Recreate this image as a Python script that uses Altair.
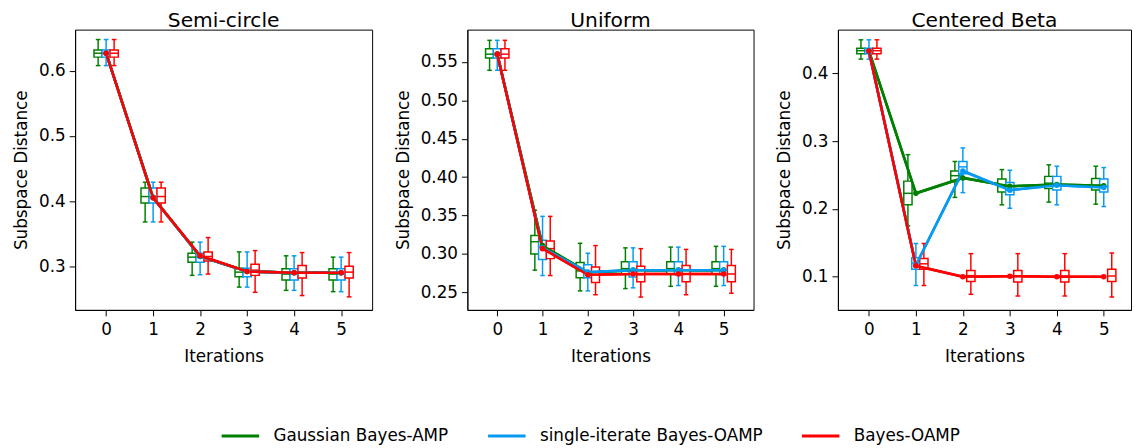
import altair as alt
import pandas as pd

ITERATIONS = [0, 1, 2, 3, 4, 5]
SERIES = ["Gaussian Bayes-AMP", "single-iterate Bayes-OAMP", "Bayes-OAMP"]
COLORS = ["#008000", "#069af3", "#ff0000"]
PANELS = ["Semi-circle", "Uniform", "Centered Beta"]

# each row: (whisker low, q1, median, q3, whisker high, mean) per iteration
semi_gauss = [(0.608, 0.621, 0.627, 0.632, 0.648, 0.627), (0.368, 0.397, 0.407, 0.420, 0.429, 0.406),
              (0.286, 0.306, 0.314, 0.320, 0.337, 0.315), (0.268, 0.284, 0.291, 0.297, 0.322, 0.292),
              (0.263, 0.279, 0.288, 0.296, 0.316, 0.290), (0.261, 0.279, 0.288, 0.296, 0.314, 0.290)]
semi_single = [(0.608, 0.621, 0.627, 0.632, 0.648, 0.627), (0.368, 0.397, 0.407, 0.420, 0.429, 0.405),
               (0.287, 0.306, 0.314, 0.320, 0.337, 0.315), (0.268, 0.284, 0.291, 0.297, 0.322, 0.292),
               (0.263, 0.279, 0.288, 0.296, 0.316, 0.290), (0.261, 0.279, 0.288, 0.296, 0.314, 0.290)]
semi_oamp = [(0.608, 0.621, 0.627, 0.632, 0.648, 0.627), (0.368, 0.397, 0.407, 0.420, 0.429, 0.405),
             (0.288, 0.308, 0.315, 0.322, 0.344, 0.316), (0.260, 0.286, 0.294, 0.303, 0.324, 0.292),
             (0.255, 0.282, 0.291, 0.301, 0.321, 0.290), (0.253, 0.282, 0.291, 0.300, 0.321, 0.290)]

unif_gauss = [(0.539, 0.555, 0.560, 0.567, 0.578, 0.560), (0.279, 0.300, 0.316, 0.324, 0.357, 0.311),
              (0.252, 0.269, 0.278, 0.289, 0.314, 0.276), (0.255, 0.274, 0.281, 0.290, 0.308, 0.279),
              (0.258, 0.274, 0.281, 0.290, 0.309, 0.279), (0.258, 0.274, 0.281, 0.290, 0.310, 0.279)]
unif_single = [(0.539, 0.555, 0.560, 0.567, 0.578, 0.560), (0.272, 0.293, 0.309, 0.318, 0.349, 0.308),
               (0.252, 0.269, 0.277, 0.286, 0.301, 0.2765), (0.256, 0.270, 0.279, 0.290, 0.308, 0.279),
               (0.259, 0.273, 0.279, 0.290, 0.309, 0.279), (0.259, 0.273, 0.279, 0.290, 0.310, 0.279)]
unif_oamp = [(0.539, 0.555, 0.560, 0.567, 0.578, 0.560), (0.272, 0.294, 0.307, 0.317, 0.349, 0.307),
             (0.247, 0.263, 0.273, 0.283, 0.311, 0.273), (0.244, 0.264, 0.273, 0.284, 0.307, 0.274),
             (0.247, 0.264, 0.274, 0.285, 0.306, 0.274), (0.249, 0.264, 0.274, 0.285, 0.306, 0.274)]

beta_gauss = [(0.421, 0.429, 0.4335, 0.437, 0.4495, 0.433), (0.175, 0.206, 0.223, 0.241, 0.280, 0.223),
              (0.217, 0.242, 0.249, 0.256, 0.270, 0.2457), (0.206, 0.225, 0.233, 0.244, 0.258, 0.2335),
              (0.210, 0.230, 0.238, 0.248, 0.265, 0.236), (0.207, 0.228, 0.235, 0.245, 0.263, 0.234)]
beta_single = [(0.421, 0.429, 0.4335, 0.437, 0.4495, 0.433), (0.087, 0.111, 0.120, 0.128, 0.149, 0.117),
               (0.224, 0.252, 0.262, 0.270, 0.290, 0.256), (0.201, 0.221, 0.228, 0.239, 0.257, 0.2277),
               (0.206, 0.228, 0.235, 0.248, 0.263, 0.235), (0.2035, 0.225, 0.233, 0.244, 0.261, 0.2316)]
beta_oamp = [(0.421, 0.429, 0.4335, 0.437, 0.4495, 0.433), (0.087, 0.111, 0.119, 0.127, 0.149, 0.116),
             (0.074, 0.093, 0.1016, 0.109, 0.134, 0.100), (0.0715, 0.092, 0.101, 0.109, 0.134, 0.1006),
             (0.0715, 0.092, 0.101, 0.109, 0.134, 0.100), (0.070, 0.093, 0.101, 0.111, 0.135, 0.100)]

PANEL_DATA = {
    "Semi-circle": [semi_gauss, semi_single, semi_oamp],
    "Uniform": [unif_gauss, unif_single, unif_oamp],
    "Centered Beta": [beta_gauss, beta_single, beta_oamp],
}

rows = []
for pname in PANELS:
    for k, (sname, stats) in enumerate(zip(SERIES, PANEL_DATA[pname])):
        for it, (lo, q1, med, q3, hi, mean) in zip(ITERATIONS, stats):
            rows.append(dict(panel=pname, series=sname, k=k, it=it, lo=lo, q1=q1,
                             med=med, q3=q3, hi=hi, mean=mean))
df = pd.DataFrame(rows)

FONT = "DejaVu Sans"
sscale = alt.Scale(domain=SERIES, range=COLORS)
LEGEND = alt.Legend(title=None, orient="none", direction="horizontal", legendX=147, legendY=391,
                    symbolType="stroke", symbolStrokeWidth=3, symbolSize=1444,
                    labelFontSize=17, labelFont=FONT, labelColor="black", labelOffset=13,
                    columnPadding=33, labelLimit=400)


def make_panel(name, ydom, yticks, yfmt, xdom, width):
    base = alt.Chart(df).transform_filter(alt.datum.panel == name).transform_calculate(
        xb="datum.it + (datum.k - 1) * 0.17",
        xl="datum.it + (datum.k - 1) * 0.17 - 0.088",
        xr="datum.it + (datum.k - 1) * 0.17 + 0.088",
        cl="datum.it + (datum.k - 1) * 0.17 - 0.05",
        cr="datum.it + (datum.k - 1) * 0.17 + 0.05",
    )
    xs = alt.Scale(domain=xdom, nice=False, zero=False)
    ys = alt.Scale(domain=ydom, nice=False, zero=False)
    xax = alt.Axis(values=ITERATIONS, format="d", title="Iterations", labelPadding=6, titlePadding=11)
    yax = alt.Axis(values=yticks, format=yfmt, title="Subspace Distance")
    col_nl = alt.Color("series:N", scale=sscale, legend=None)

    line_first = base.mark_line(strokeWidth=2.6).encode(
        x=alt.X("it:Q", scale=xs, axis=xax), y=alt.Y("mean:Q", scale=ys, axis=yax),
        color=alt.Color("series:N", scale=sscale, legend=LEGEND),
        order="it:Q")
    whisk = base.mark_rule(strokeWidth=1.5).encode(
        x=alt.X("xb:Q", scale=xs, axis=xax), y=alt.Y("lo:Q", scale=ys, axis=yax), y2="hi:Q",
        color=col_nl)
    cap_hi = base.mark_rule(strokeWidth=1.5).encode(
        x=alt.X("cl:Q", scale=xs, axis=xax), x2="cr:Q", y=alt.Y("hi:Q", scale=ys, axis=yax),
        color=col_nl)
    cap_lo = base.mark_rule(strokeWidth=1.5).encode(
        x=alt.X("cl:Q", scale=xs, axis=xax), x2="cr:Q", y=alt.Y("lo:Q", scale=ys, axis=yax),
        color=col_nl)
    box = base.mark_rect(filled=False, fill="white", strokeWidth=1.5).encode(
        x=alt.X("xl:Q", scale=xs, axis=xax), x2="xr:Q", y=alt.Y("q1:Q", scale=ys, axis=yax), y2="q3:Q",
        color=col_nl)
    med = base.mark_rule(strokeWidth=1.5).encode(
        x=alt.X("xl:Q", scale=xs, axis=xax), x2="xr:Q", y=alt.Y("med:Q", scale=ys, axis=yax),
        color=col_nl)
    line = base.mark_line(strokeWidth=2.6).encode(
        x=alt.X("it:Q", scale=xs, axis=xax), y=alt.Y("mean:Q", scale=ys, axis=yax),
        color=col_nl, order="it:Q")
    pts = base.mark_circle(size=32, opacity=1).encode(
        x=alt.X("it:Q", scale=xs, axis=xax), y=alt.Y("mean:Q", scale=ys, axis=yax),
        color=col_nl)
    return alt.layer(line_first, whisk, cap_hi, cap_lo, box, med, line, pts).properties(
        width=width, height=284,
        title=alt.TitleParams(name, fontSize=20.5, font=FONT, fontWeight="normal",
                              color="black", offset=-2))


p1 = make_panel("Semi-circle", [0.233, 0.6632], [0.3, 0.4, 0.5, 0.6], ".1f", [-0.66, 5.66], 301)
p2 = make_panel("Uniform", [0.2273, 0.5919], [0.25, 0.30, 0.35, 0.40, 0.45, 0.50, 0.55], ".2f",
                [-0.66, 5.66], 290)
p3 = make_panel("Centered Beta", [0.051, 0.4645], [0.1, 0.2, 0.3, 0.4], ".1f", [-0.66, 5.58], 297)

chart = alt.hconcat(p1, p2, p3, spacing=20.5).properties(
    padding={"left": 4, "top": 0, "right": 0, "bottom": 0}
).configure_view(stroke="black", strokeWidth=1).configure_axis(
    labelFont=FONT, titleFont=FONT, labelFontSize=17, titleFontSize=17, labelColor="black",
    titleColor="black", titleFontWeight="normal", tickColor="black", domainColor="black",
    tickSize=6, labelPadding=4, titlePadding=8, grid=False
)

chart.save("out.html", embed_options={"renderer": "svg", "actions": False})
